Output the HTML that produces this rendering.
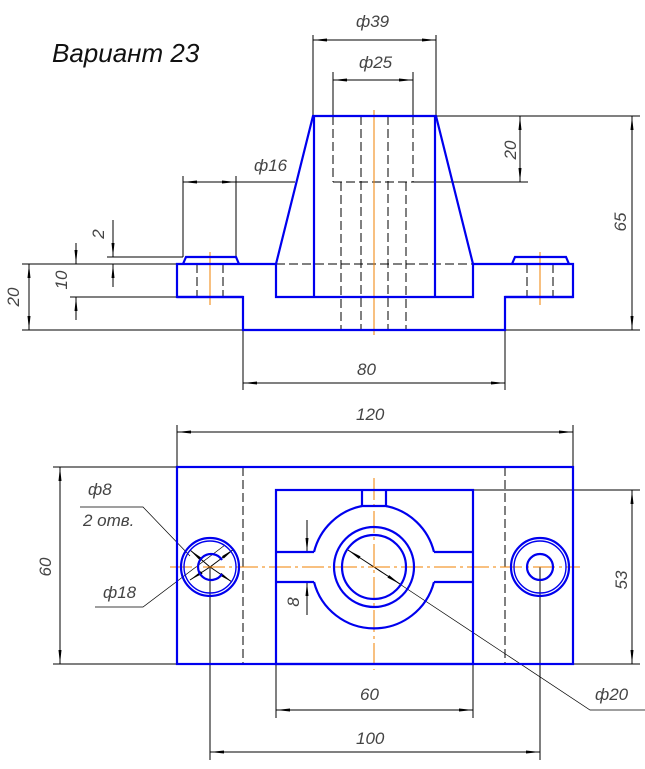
<!DOCTYPE html><html><head><style>body{margin:0;background:#fff}svg{display:block}text{font-family:"Liberation Sans","DejaVu Sans",sans-serif;font-style:italic;fill:#444;font-size:17px}</style></head><body>
<svg width="645" height="769" viewBox="0 0 645 769" xmlns="http://www.w3.org/2000/svg">
<defs>
<marker id="a" markerWidth="14" markerHeight="6" refX="14" refY="3" orient="auto" markerUnits="userSpaceOnUse"><path d="M0,1.5 L14,3 L0,4.5z" fill="#000"/></marker>
</defs>
<text x="52" y="62" style="font-size:26px;fill:#111">Вариант 23</text>
<g stroke="#000" stroke-width="1" fill="none">
<path d="M313,35V116M436,35V116M333,72V116M413,72V116M436,116H640M505,330H640M22,264H177M22,330H243M70,297H177M107,257H183M183,176V257M236,176V257M243,330V390M505,330V390M413,182H528"/>
<g marker-end="url(#a)">
<path d="M374,40H313"/><path d="M374,40H436"/>
<path d="M373,80H333"/><path d="M373,80H413"/>
<path d="M520,149V116"/><path d="M520,149V182"/>
<path d="M632,223V116"/><path d="M632,223V330"/>
<path d="M29,297V264"/><path d="M29,297V330"/>
<path d="M374,383H243"/><path d="M374,383H505"/>
<path d="M210,182H183"/><path d="M210,182H236"/>
<path d="M375,432H177"/><path d="M375,432H573"/>
<path d="M60,566V467"/><path d="M60,566V664"/>
<path d="M632,577V490"/><path d="M632,577V664"/>
<path d="M375,710H276"/><path d="M375,710H473"/>
<path d="M375,752H210"/><path d="M375,752H540"/>
<path d="M76,243V264"/><path d="M76,320V297"/>
<path d="M113,220V257"/><path d="M113,287V264"/>
<path d="M307,520V552"/><path d="M307,615V582"/>
<path d="M374,567L400,584"/><path d="M374,567L348,550"/>
<path d="M210,567L190,550"/><path d="M210,567L232,582"/>
<path d="M210,567L190,580"/><path d="M210,567L234,549"/>
</g>
<path d="M236,182H295"/>
<path d="M177,425V467M573,425V467M53,467H177M53,664H177M473,490H640M573,664H640M276,664V718M473,664V718M210,567V760M540,567V760"/>
<path d="M645,710H590L374,567" stroke-width=".7"/>
<path d="M80,507H143L190,556" stroke-width=".7"/>
<path d="M95,607H143L225,545" stroke-width=".7"/>
</g>
<g stroke="#000" stroke-width="1" stroke-dasharray="9,4" fill="none">
<path d="M333,116V182M413,116V182M333,182H413M361,116V330M388,116V330M341,182V330M406,182V330M276,264H473M197,264V297M223,264V297M527,264V297M553,264V297M243,467V664M505,467V664"/>
</g>
<g stroke="#f08000" stroke-width="1" fill="none">
<path d="M374,110V335M210,252V305M540,252V305"/>
<path d="M374,478V670M170,567H580" stroke-dasharray="22,4,3,4"/>
</g>
<g stroke="#0000ee" stroke-width="2.2" fill="none">
<path d="M313,116H436L473,264H573V297H505V330H243V297H177V264H276Z"/>
<path d="M314,116V297M435,116V297M276,264V297H473V264M177,297H243M505,297H573"/>
<path d="M183,264L186,257H236L239,264M512,264L515,257H566L569,264"/>
<rect x="177" y="467" width="396" height="197"/>
<rect x="276" y="490" width="197" height="174"/>
<path d="M362,490V506H386V490M276,552H314M276,582H314M434,552H473M434,582H473"/>
<path d="M362,506A62,62 0 0,0 314,552M314,582A62,62 0 0,0 434,582M434,552A62,62 0 0,0 386,506"/>
<circle cx="374" cy="567" r="40"/><circle cx="374" cy="567" r="32"/>
<circle cx="540" cy="567" r="29"/><circle cx="540" cy="567" r="26" stroke-width="1.4"/><circle cx="540" cy="567" r="13"/>
<circle cx="210" cy="567" r="29"/><circle cx="210" cy="567" r="26" stroke-width="1.4"/><path d="M222,560A13,13 0 1,0 222,574"/>
</g>
<g>
<text x="356" y="27">ф39</text><text x="359" y="68">ф25</text>
<text x="254" y="171">ф16</text>
<text x="357" y="375">80</text>
<text x="356" y="420">120</text>
<text x="360" y="700">60</text><text x="356" y="744">100</text>
<text x="595" y="700">ф20</text>
<text x="88" y="495">ф8</text><text x="83" y="526">2 отв.</text>
<text x="103" y="598">ф18</text>
<text transform="translate(516,150) rotate(-90)" text-anchor="middle">20</text>
<text transform="translate(626,222) rotate(-90)" text-anchor="middle">65</text>
<text transform="translate(19,297) rotate(-90)" text-anchor="middle">20</text>
<text transform="translate(67,280) rotate(-90)" text-anchor="middle">10</text>
<text transform="translate(104,234) rotate(-90)" text-anchor="middle">2</text>
<text transform="translate(51,567) rotate(-90)" text-anchor="middle">60</text>
<text transform="translate(627,580) rotate(-90)" text-anchor="middle">53</text>
<text transform="translate(299,602) rotate(-90)" text-anchor="middle">8</text>
</g>
</svg></body></html>
